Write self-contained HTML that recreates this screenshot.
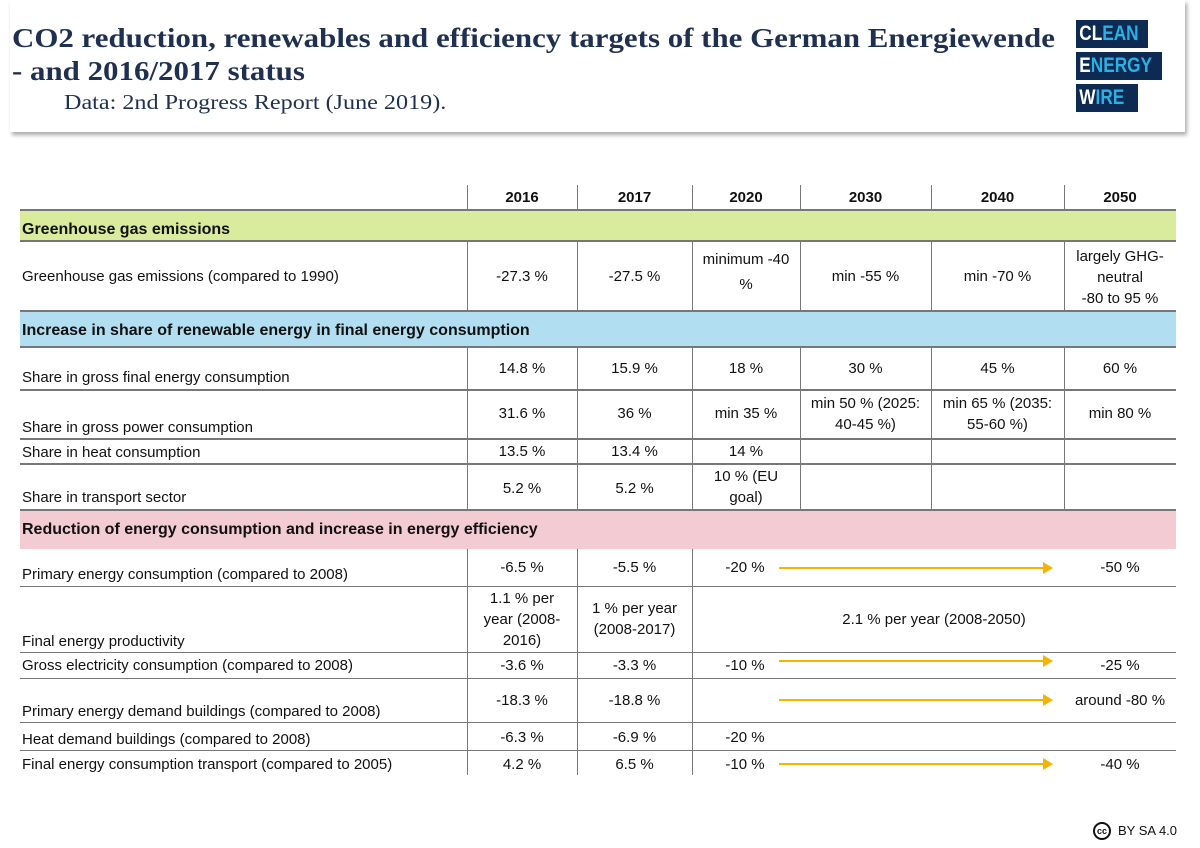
<!DOCTYPE html>
<html><head><meta charset="utf-8">
<style>
body{margin:0;width:1200px;height:848px;background:#fff;position:relative;overflow:hidden;font-family:"Liberation Sans",sans-serif;color:#111;}
.a{position:absolute}
.t{position:absolute;font-size:15px;line-height:19px;text-align:center;display:flex;align-items:center;justify-content:center;}
.l{position:absolute;font-size:15px;line-height:19px;left:22px}
.h{position:absolute;background:#777}
.v{position:absolute;width:1px;background:#777}
.band{position:absolute;left:20px;width:1156px;font-weight:bold;font-size:16px;}
.arr{position:absolute;height:2px;background:#f5b400}
.arr:after{content:"";position:absolute;right:-8px;top:-5px;border-left:10px solid #f5b400;border-top:6px solid transparent;border-bottom:6px solid transparent}
.logo{position:absolute;left:1076px;height:28px;background:#0d2a52;color:#2bb0e6;font-weight:bold;font-size:21px;line-height:28px;box-sizing:border-box;overflow:hidden}
.logo span.s{display:inline-block;transform:scaleX(0.82);transform-origin:left;padding-left:4px;white-space:nowrap}
</style></head><body>
<div class="a" style="left:10px;top:0;width:1175px;height:132px;background:#fff;box-shadow:2px 3px 4px #aaa;"></div>
<div class="a" style="left:12px;top:22px;font-family:'Liberation Serif',serif;font-weight:bold;font-size:27px;line-height:33px;color:#1f3050;transform:scaleX(1.145);transform-origin:left;white-space:nowrap">CO2 reduction, renewables and efficiency targets of the German Energiewende<br>- and 2016/2017 status</div>
<div class="a" style="left:64px;top:90px;font-family:'Liberation Serif',serif;font-size:21px;color:#1f3050;transform:scaleX(1.15);transform-origin:left;white-space:nowrap">Data: 2nd Progress Report (June 2019).</div>
<div class="logo" style="top:20px;width:72px"><span class="s"><span style="color:#fff">CL</span>EAN</span></div>
<div class="logo" style="top:52px;width:86px"><span class="s"><span style="color:#fff">E</span>NERGY</span></div>
<div class="logo" style="top:84px;width:62px"><span class="s"><span style="color:#fff">W</span>IRE</span></div>

<!-- header row -->
<div class="t" style="left:467px;top:186px;width:110px;height:23px;font-weight:bold">2016</div>
<div class="t" style="left:577px;top:186px;width:115px;height:23px;font-weight:bold">2017</div>
<div class="t" style="left:692px;top:186px;width:108px;height:23px;font-weight:bold">2020</div>
<div class="t" style="left:800px;top:186px;width:131px;height:23px;font-weight:bold">2030</div>
<div class="t" style="left:931px;top:186px;width:133px;height:23px;font-weight:bold">2040</div>
<div class="t" style="left:1064px;top:186px;width:112px;height:23px;font-weight:bold">2050</div>

<div class="band" style="top:209px;height:33px;background:#d9eb9d;border-top:2px solid #777;border-bottom:2px solid #777;box-sizing:border-box"><span style="position:absolute;left:2px;top:10px">Greenhouse gas emissions</span></div>
<div class="band" style="top:310px;height:38px;background:#b2def2;border-top:2px solid #777;border-bottom:2px solid #777;box-sizing:border-box"><span style="position:absolute;left:2px;top:10px">Increase in share of renewable energy in final energy consumption</span></div>
<div class="band" style="top:509px;height:40px;background:#f3cbd2;border-top:2px solid #777;box-sizing:border-box"><span style="position:absolute;left:2px;top:10px">Reduction of energy consumption and increase in energy efficiency</span></div>

<!-- verticals -->
<div class="v" style="left:467px;top:185px;height:24px"></div><div class="v" style="left:577px;top:185px;height:24px"></div><div class="v" style="left:692px;top:185px;height:24px"></div><div class="v" style="left:800px;top:185px;height:24px"></div><div class="v" style="left:931px;top:185px;height:24px"></div><div class="v" style="left:1064px;top:185px;height:24px"></div>
<div class="v" style="left:467px;top:242px;height:68px"></div><div class="v" style="left:577px;top:242px;height:68px"></div><div class="v" style="left:692px;top:242px;height:68px"></div><div class="v" style="left:800px;top:242px;height:68px"></div><div class="v" style="left:931px;top:242px;height:68px"></div><div class="v" style="left:1064px;top:242px;height:68px"></div>
<div class="v" style="left:467px;top:348px;height:161px"></div><div class="v" style="left:577px;top:348px;height:161px"></div><div class="v" style="left:692px;top:348px;height:161px"></div><div class="v" style="left:800px;top:348px;height:161px"></div><div class="v" style="left:931px;top:348px;height:161px"></div><div class="v" style="left:1064px;top:348px;height:161px"></div>
<div class="v" style="left:467px;top:549px;height:226px"></div><div class="v" style="left:577px;top:549px;height:226px"></div><div class="v" style="left:692px;top:549px;height:226px"></div>

<!-- horizontals -->
<div class="h" style="left:20px;top:389px;width:1156px;height:2px"></div>
<div class="h" style="left:20px;top:438px;width:1156px;height:2px"></div>
<div class="h" style="left:20px;top:463px;width:1156px;height:2px"></div>
<div class="h" style="left:20px;top:586px;width:1156px;height:1px"></div>
<div class="h" style="left:20px;top:652px;width:1156px;height:1px"></div>
<div class="h" style="left:20px;top:678px;width:1156px;height:1px"></div>
<div class="h" style="left:20px;top:722px;width:1156px;height:1px"></div>
<div class="h" style="left:20px;top:750px;width:1156px;height:1px"></div>

<!-- GHG row -->
<div class="l" style="top:267px">Greenhouse gas emissions (compared to 1990)</div>
<div class="t" style="left:467px;top:242px;width:110px;height:68px">-27.3 %</div>
<div class="t" style="left:577px;top:242px;width:115px;height:68px">-27.5 %</div>
<div class="t" style="left:692px;top:250px;width:108px;height:44px;line-height:25px">minimum -40<br>%</div>
<div class="t" style="left:800px;top:242px;width:131px;height:68px">min -55 %</div>
<div class="t" style="left:931px;top:242px;width:133px;height:68px">min -70 %</div>
<div class="t" style="left:1064px;top:244px;width:112px;height:66px;line-height:21px">largely GHG-<br>neutral<br>-80 to 95 %</div>

<!-- renewables -->
<div class="l" style="top:368px">Share in gross final energy consumption</div>
<div class="t" style="left:467px;top:358px;width:110px;height:20px">14.8 %</div>
<div class="t" style="left:577px;top:358px;width:115px;height:20px">15.9 %</div>
<div class="t" style="left:692px;top:358px;width:108px;height:20px">18 %</div>
<div class="t" style="left:800px;top:358px;width:131px;height:20px">30 %</div>
<div class="t" style="left:931px;top:358px;width:133px;height:20px">45 %</div>
<div class="t" style="left:1064px;top:358px;width:112px;height:20px">60 %</div>

<div class="l" style="top:418px">Share in gross power consumption</div>
<div class="t" style="left:467px;top:403px;width:110px;height:20px">31.6 %</div>
<div class="t" style="left:577px;top:403px;width:115px;height:20px">36 %</div>
<div class="t" style="left:692px;top:403px;width:108px;height:20px">min 35 %</div>
<div class="t" style="left:800px;top:392px;width:131px;height:44px;line-height:21px">min 50 % (2025:<br>40-45 %)</div>
<div class="t" style="left:931px;top:392px;width:133px;height:44px;line-height:21px">min 65 % (2035:<br>55-60 %)</div>
<div class="t" style="left:1064px;top:403px;width:112px;height:20px">min 80 %</div>

<div class="l" style="top:443px">Share in heat consumption</div>
<div class="t" style="left:467px;top:441px;width:110px;height:20px">13.5 %</div>
<div class="t" style="left:577px;top:441px;width:115px;height:20px">13.4 %</div>
<div class="t" style="left:692px;top:441px;width:108px;height:20px">14 %</div>

<div class="l" style="top:488px">Share in transport sector</div>
<div class="t" style="left:467px;top:478px;width:110px;height:20px">5.2 %</div>
<div class="t" style="left:577px;top:478px;width:115px;height:20px">5.2 %</div>
<div class="t" style="left:692px;top:466px;width:108px;height:42px;line-height:21px">10 % (EU<br>goal)</div>

<!-- efficiency -->
<div class="l" style="top:565px">Primary energy consumption (compared to 2008)</div>
<div class="t" style="left:467px;top:557px;width:110px;height:20px">-6.5 %</div>
<div class="t" style="left:577px;top:557px;width:115px;height:20px">-5.5 %</div>
<div class="t" style="left:700px;top:557px;width:90px;height:20px">-20 %</div>
<div class="arr" style="left:779px;top:567px;width:266px"></div>
<div class="t" style="left:1064px;top:557px;width:112px;height:20px">-50 %</div>

<div class="l" style="top:632px">Final energy productivity</div>
<div class="t" style="left:467px;top:588px;width:110px;height:62px;line-height:21px">1.1 % per<br>year (2008-<br>2016)</div>
<div class="t" style="left:577px;top:598px;width:115px;height:42px;line-height:21px">1 % per year<br>(2008-2017)</div>
<div class="t" style="left:692px;top:609px;width:484px;height:20px">2.1 % per year (2008-2050)</div>

<div class="l" style="top:656px">Gross electricity consumption (compared to 2008)</div>
<div class="t" style="left:467px;top:655px;width:110px;height:20px">-3.6 %</div>
<div class="t" style="left:577px;top:655px;width:115px;height:20px">-3.3 %</div>
<div class="t" style="left:700px;top:655px;width:90px;height:20px">-10 %</div>
<div class="arr" style="left:779px;top:660px;width:266px"></div>
<div class="t" style="left:1064px;top:655px;width:112px;height:20px">-25 %</div>

<div class="l" style="top:702px">Primary energy demand buildings (compared to 2008)</div>
<div class="t" style="left:467px;top:690px;width:110px;height:20px">-18.3 %</div>
<div class="t" style="left:577px;top:690px;width:115px;height:20px">-18.8 %</div>
<div class="arr" style="left:779px;top:699px;width:266px"></div>
<div class="t" style="left:1064px;top:690px;width:112px;height:20px">around -80 %</div>

<div class="l" style="top:730px">Heat demand buildings (compared to 2008)</div>
<div class="t" style="left:467px;top:727px;width:110px;height:20px">-6.3 %</div>
<div class="t" style="left:577px;top:727px;width:115px;height:20px">-6.9 %</div>
<div class="t" style="left:700px;top:727px;width:90px;height:20px">-20 %</div>

<div class="l" style="top:755px">Final energy consumption transport (compared to 2005)</div>
<div class="t" style="left:467px;top:754px;width:110px;height:20px">4.2 %</div>
<div class="t" style="left:577px;top:754px;width:115px;height:20px">6.5 %</div>
<div class="t" style="left:700px;top:754px;width:90px;height:20px">-10 %</div>
<div class="arr" style="left:779px;top:763px;width:266px"></div>
<div class="t" style="left:1064px;top:754px;width:112px;height:20px">-40 %</div>

<div class="a" style="left:1093px;top:822px;width:18px;height:18px;border:2px solid #111;border-radius:50%;box-sizing:border-box;font-size:9px;font-weight:bold;text-align:center;line-height:14px">cc</div>
<div class="a" style="left:1118px;top:823px;font-size:13px">BY SA 4.0</div>
</body></html>
